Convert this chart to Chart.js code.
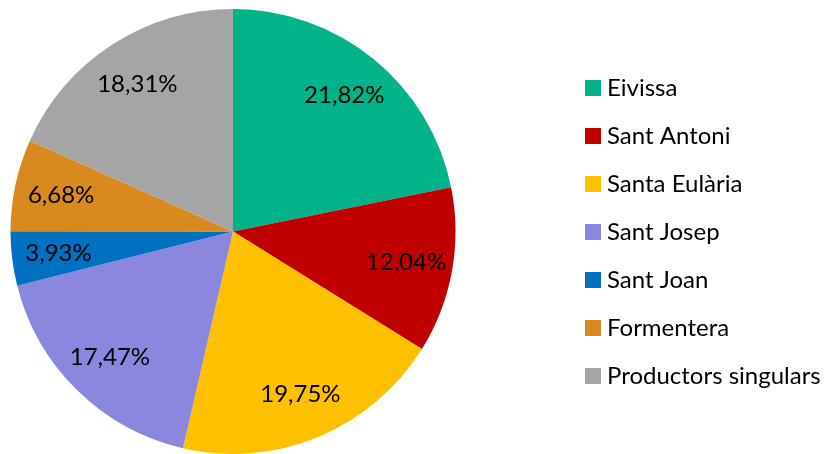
<!DOCTYPE html>
<html>
<head>
<meta charset="utf-8">
<script src="https://cdn.jsdelivr.net/npm/chart.js@4/dist/chart.umd.min.js"></script>
<style>
  body { margin: 0; background: #fff; }
  canvas { display: block; }
</style>
</head>
<body>
<canvas id="pieChart" width="831" height="454"></canvas>
<script>
const labels = ["Eivissa", "Sant Antoni", "Santa Eulària", "Sant Josep", "Sant Joan", "Formentera", "Productors singulars"];
const values = [21.82, 12.04, 19.75, 17.47, 3.93, 6.68, 18.31];
const colors = ["#00B388", "#C00000", "#FFC000", "#8B86DE", "#0070C0", "#D98A1E", "#A5A5A5"];

const FONT = "Lato, 'Liberation Sans', sans-serif";

// etiquetes de percentatge dins de cada porció
const sliceLabels = {
  id: "sliceLabels",
  afterDatasetsDraw(chart) {
    const ctx = chart.ctx;
    const meta = chart.getDatasetMeta(0);
    ctx.save();
    ctx.font = "24px " + FONT;
    ctx.fillStyle = "#000";
    ctx.textAlign = "center";
    ctx.textBaseline = "middle";
    meta.data.forEach((arc, i) => {
      const mid = (arc.startAngle + arc.endAngle) / 2;
      const r = arc.outerRadius * 0.79;
      const x = arc.x + Math.cos(mid) * r;
      const y = arc.y + Math.sin(mid) * r;
      ctx.fillText(values[i].toFixed(2).replace(".", ",") + "%", x, y);
    });
    ctx.restore();
  },
};

// llegenda a la dreta
const sideLegend = {
  id: "sideLegend",
  afterDraw(chart) {
    const ctx = chart.ctx;
    const ds = chart.data.datasets[0];
    ctx.save();
    ctx.font = "24px " + FONT;
    ctx.textBaseline = "alphabetic";
    ctx.textAlign = "left";
    chart.data.labels.forEach((label, i) => {
      const base = 96 + i * 48;
      ctx.fillStyle = ds.backgroundColor[i];
      ctx.fillRect(585, base - 16, 16, 16);
      ctx.fillStyle = "#000";
      ctx.fillText(label, 607, base);
    });
    ctx.restore();
  },
};

const ctx = document.getElementById("pieChart").getContext("2d");
new Chart(ctx, {
  type: "pie",
  data: {
    labels,
    datasets: [
      {
        data: values,
        backgroundColor: colors,
        borderWidth: 0,
      },
    ],
  },
  options: {
    responsive: false,
    animation: false,
    events: [],
    layout: {
      padding: { left: 10, right: 375, top: 9, bottom: 0 },
    },
    plugins: {
      legend: { display: false },
      tooltip: { enabled: false },
    },
  },
  plugins: [sliceLabels, sideLegend],
});
</script>
</body>
</html>
